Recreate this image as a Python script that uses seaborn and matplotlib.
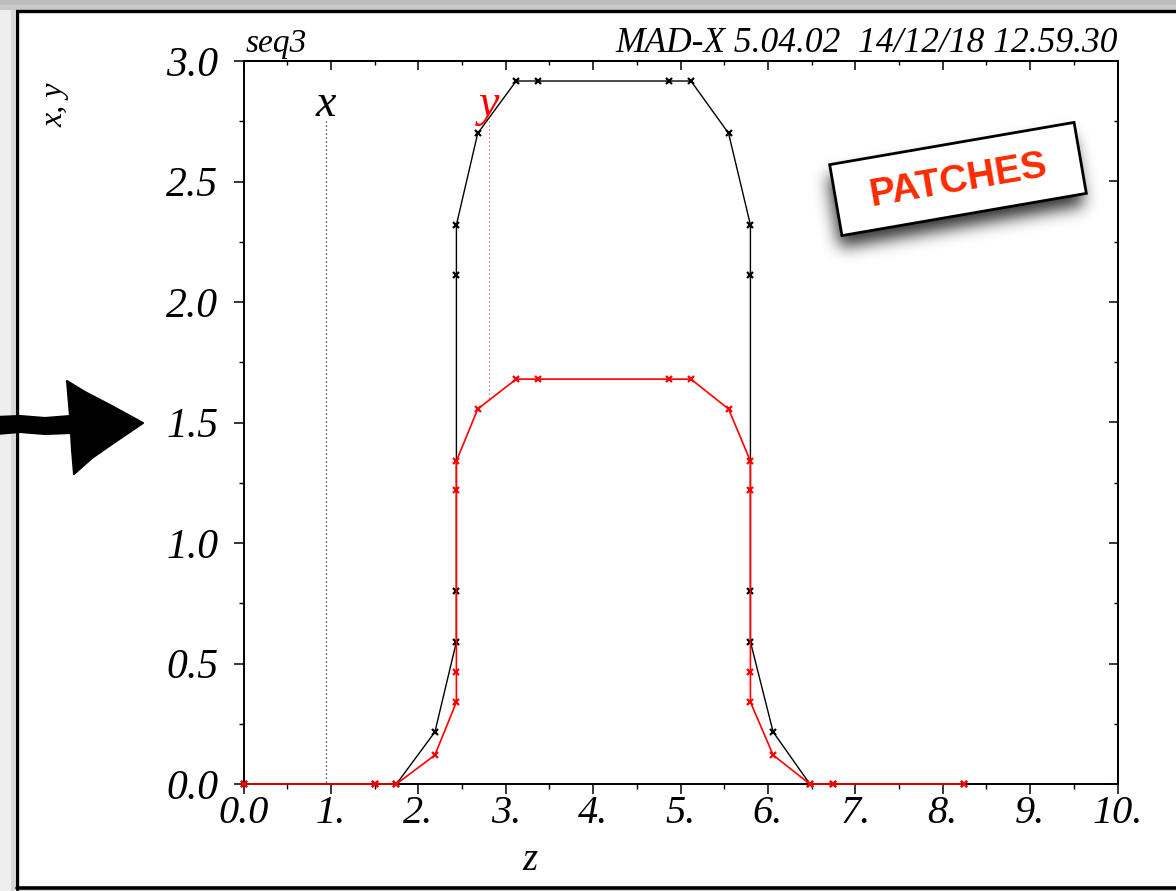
import numpy as np
import matplotlib
matplotlib.use("Agg")
import matplotlib.pyplot as plt
import seaborn as sns
from matplotlib.patches import Rectangle, Polygon
from matplotlib import transforms
from matplotlib.ticker import MultipleLocator

# Orbit along the sequence: longitudinal position and horizontal / vertical orbit
s_pos = [0.0, 1.50, 1.75, 2.19, 2.436, 2.436, 2.436, 2.436, 2.68, 3.12, 3.37,
         4.87, 5.12, 5.55, 5.80, 5.80, 5.80, 5.80, 6.06, 6.48, 6.74, 8.24]
x_orbit = [0.0, 0.0, 0.0, 0.216, 0.59, 0.80, 2.11, 2.32, 2.70, 2.917, 2.917,
           2.917, 2.917, 2.70, 2.32, 2.11, 0.80, 0.59, 0.216, 0.0, 0.0, 0.0]
y_orbit = [0.0, 0.0, 0.0, 0.12, 0.34, 0.465, 1.22, 1.34, 1.556, 1.68, 1.68,
           1.68, 1.68, 1.556, 1.34, 1.22, 0.465, 0.34, 0.12, 0.0, 0.0, 0.0]

# curve annotations (name, position along s)
curve_names = ["x", "y"]
curve_label_s = [0.94, 2.81]
label_level = 2.77

xtick_vals = list(range(11))
xtick_labels = ["0.0", "1.", "2.", "3.", "4.", "5.", "6.", "7.", "8.", "9.", "10."]
ytick_vals = [0.0, 0.5, 1.0, 1.5, 2.0, 2.5, 3.0]
ytick_labels = ["0.0", "0.5", "1.0", "1.5", "2.0", "2.5", "3.0"]

title_left = "seq3"
title_right = "MAD-X 5.04.02  14/12/18 12.59.30"
badge_text = "PATCHES"

sns.set_style("ticks")
plt.rcParams["font.family"] = ["Liberation Serif", "DejaVu Serif"]
plt.rcParams["text.color"] = "black"
plt.rcParams["xtick.color"] = "black"
plt.rcParams["ytick.color"] = "black"
plt.rcParams["xtick.labelcolor"] = "black"
plt.rcParams["ytick.labelcolor"] = "black"

W, H = 1176, 891
fig = plt.figure(figsize=(W / 100, H / 100), dpi=100)
fig.patch.set_facecolor("white")

# ---- main plot -----------------------------------------------------------
L, R, T, B = 243.5, 1117.5, 61.0, 784.0
ax = fig.add_axes([L / W, (H - B) / H, (R - L) / W, (B - T) / H])

sns.lineplot(x=s_pos, y=x_orbit, sort=False, estimator=None, color="black",
             lw=1.0, marker="x", ms=4.5, mew=1.6, mec="black", ax=ax)
sns.lineplot(x=s_pos, y=y_orbit, sort=False, estimator=None, color="#ff0000",
             lw=1.2, marker="x", ms=4.5, mew=1.6, mec="#ff0000", ax=ax)
for ln in ax.lines:
    ln.set_clip_on(False)
    ln.set_zorder(3)

ax.set_xlim(0, 10)
ax.set_ylim(0, 3)

# curve name labels with dotted drop lines to their curve
curve_data = [x_orbit, y_orbit]
curve_cols = ["black", "#ff0000"]
drop_cols = ["#222222", "#ff6060"]
for name, s0, data, col, dcol in zip(curve_names, curve_label_s, curve_data,
                                     curve_cols, drop_cols):
    # value of the curve at s0 (first, monotone part of the orbit)
    v = float(np.interp(s0, s_pos[:10], data[:10]))
    ax.plot([s0, s0], [label_level - 0.02, v], ls=(0, (1, 2.2)), lw=0.9,
            color=dcol, zorder=2)
    ax.text(s0, label_level, name, color=col, fontsize=33, fontstyle="italic",
            ha="center", va="baseline")

ax.set_xticks(xtick_vals)
ax.set_xticklabels(xtick_labels, fontsize=29, fontstyle="italic")
ax.set_yticks(ytick_vals)
ax.set_yticklabels(ytick_labels, fontsize=30, fontstyle="italic")
ax.xaxis.set_minor_locator(MultipleLocator(0.5))
ax.yaxis.set_minor_locator(MultipleLocator(0.25))
ax.tick_params(which="major", direction="out", length=7, width=1.1,
               color="black")
ax.tick_params(which="minor", direction="out", length=3.5, width=1.0,
               color="black")
ax.tick_params(axis="x", which="major", pad=1)
ax.tick_params(axis="y", which="major", pad=11)
for sp in ax.spines.values():
    sp.set_visible(True)
    sp.set_linewidth(1.4)
    sp.set_color("black")
ax.set_xlabel("")
ax.set_ylabel("")

# mirrored inward ticks on top and right
top = ax.secondary_xaxis("top")
top.set_xticks(xtick_vals)
top.xaxis.set_minor_locator(MultipleLocator(0.5))
top.tick_params(which="major", direction="in", length=6.5, width=1.1,
                labeltop=False)
top.tick_params(which="minor", direction="in", length=3, width=1.0)
rgt = ax.secondary_yaxis("right")
rgt.set_yticks(ytick_vals)
rgt.yaxis.set_minor_locator(MultipleLocator(0.25))
rgt.tick_params(which="major", direction="in", length=6.5, width=1.1,
                labelright=False)
rgt.tick_params(which="minor", direction="in", length=3, width=1.0)
for sec in (top, rgt):
    for sp in sec.spines.values():
        sp.set_linewidth(1.4)
        sp.set_color("black")

# ---- page decorations in pixel coordinates --------------------------------
ov = fig.add_axes([0, 0, 1, 1], zorder=10)
ov.set_xlim(0, W)
ov.set_ylim(H, 0)
ov.axis("off")
ov.set_facecolor("none")

# window shading and frame
ov.add_patch(Rectangle((0, 0), W, 9.5, color="#c9c9c9", lw=0))
ov.add_patch(Rectangle((0, 0), W, 5, color="#bdbdbd", lw=0))
ov.add_patch(Rectangle((0, 9.5), 15, H, color="#eeeeee", lw=0))
ov.add_patch(Rectangle((11, 9.5), 4, H, color="#d8d8d8", lw=0))
ov.add_patch(Rectangle((16, 889.5), W, 3, color="#d0d0d0", lw=0))
ov.plot([16.5, 16.5, W + 2], [H - 2.5, 10.5, 10.5], color="black", lw=2.4,
        solid_joinstyle="miter")
ov.plot([16.5, W + 2], [888, 888], color="black", lw=2.6)

# title strings above the plot box
ov.text(L + 2, 52, title_left, fontsize=24, fontstyle="italic", ha="left",
        va="baseline")
ov.text(R, 52, title_right, fontsize=25.5, fontstyle="italic", ha="right",
        va="baseline")
# axis titles
ov.text(55, 105, "x, y", fontsize=23, fontstyle="italic", rotation=90,
        ha="center", va="center")
ov.text(530, 860, "z", fontsize=28, fontstyle="italic", ha="center",
        va="center")

# hand-drawn arrow at the left edge
arrow_pts = [(-4, 417), (20, 416), (45, 418), (70, 416), (67, 381), (85, 392),
             (110, 405), (143, 423), (115, 442), (92, 458), (74, 474),
             (72, 450), (71, 433), (45, 434), (20, 432), (-4, 434)]
ov.add_patch(Polygon(arrow_pts, closed=True, facecolor="black",
                     edgecolor="black", lw=1.5, joinstyle="round"))

# "PATCHES" badge: blurred drop shadow, white box, red lettering
cx, cy, bw, bh, ang = 958.0, 179.0, 248.0, 72.0, 9.8
x0, x1, y0, y1 = 780, 1140, 90, 300
gx, gy = np.meshgrid(np.arange(x0, x1) + 0.5, np.arange(y0, y1) + 0.5)
scx, scy = cx - 2, cy + 12
a = np.deg2rad(ang)
dx, dy = gx - scx, -(gy - scy)
u = dx * np.cos(a) + dy * np.sin(a)
v = -dx * np.sin(a) + dy * np.cos(a)
mask = ((np.abs(u) < bw / 2) & (np.abs(v) < bh / 2)).astype(float)
k = np.arange(-24, 25)
ker = np.exp(-0.5 * (k / 8.0) ** 2)
ker /= ker.sum()
blur = np.apply_along_axis(lambda r: np.convolve(r, ker, mode="same"), 1, mask)
blur = np.apply_along_axis(lambda c: np.convolve(c, ker, mode="same"), 0, blur)
shadow = np.zeros((y1 - y0, x1 - x0, 4))
shadow[..., 3] = 0.8 * blur
ov.imshow(shadow, extent=(x0, x1, y1, y0), interpolation="bilinear",
          zorder=1)
ov.set_xlim(0, W)
ov.set_ylim(H, 0)

rot = transforms.Affine2D().rotate_deg_around(cx, cy, -ang) + ov.transData
ov.add_patch(Rectangle((cx - bw / 2, cy - bh / 2), bw, bh, facecolor="white",
                       edgecolor="black", lw=2.0, transform=rot, zorder=2))
ov.text(cx, cy + 2, badge_text, color="#ff2a00", fontsize=28,
        fontweight="bold", family=["Liberation Sans", "DejaVu Sans"],
        rotation=ang, rotation_mode="anchor", ha="center", va="center",
        zorder=3)

fig.savefig("out.png", dpi=100)
